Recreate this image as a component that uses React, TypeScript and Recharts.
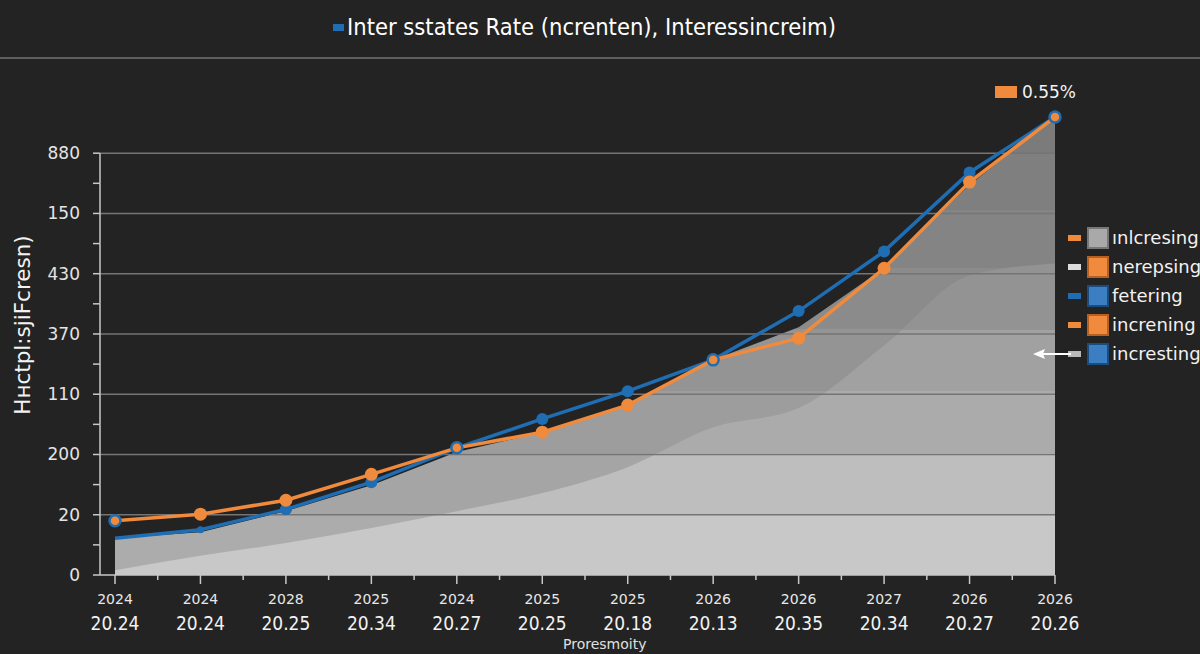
import React from 'react';
import { ComposedChart, Area, Line, XAxis, YAxis, ReferenceLine } from 'recharts';

// tick labels
const years = ['2024', '2024', '2028', '2025', '2024', '2025', '2025', '2026', '2026', '2027', '2026', '2026'];
const rates = ['20.24', '20.24', '20.25', '20.34', '20.27', '20.25', '20.18', '20.13', '20.35', '20.34', '20.27', '20.26'];
const yTickLabels = ['0', '20', '200', '110', '370', '430', '150', '880'];

// series (in y-grid units)
const orangeValues = [0.9, 1.01, 1.24, 1.67, 2.11, 2.37, 2.82, 3.57, 3.93, 5.09, 6.52, 7.6];
const blueValues = [0.61, 0.75, 1.09, 1.54, 2.11, 2.59, 3.05, 3.57, 4.38, 5.37, 6.68, 7.6];
const upperBand = [0.61, 0.71, 1.06, 1.49, 2.04, 2.37, 2.82, 3.57, 4.11, 5.09, 6.47, 7.6];
const lowerBand = [0.08, 0.32, 0.53, 0.78, 1.06, 1.36, 1.79, 2.45, 2.77, 3.81, 4.97, 5.17];

const legendLabels = ['ınlcresing', 'nerepsing', 'fetering', 'increning', 'incresting'];
const titleText = 'Inter sstates Rate (ncrenten), Interessincreim)';
const yAxisTitle = 'Hнctpl:sjiFcresn)';
const xAxisTitle = 'Proresmoity';
const badgeText = '0.55%';

const data = years.map((yr, i) => ({
  x: i,
  orange: orangeValues[i],
  blue: blueValues[i],
  upper: upperBand[i],
  lower: lowerBand[i],
}));

const xTicks = years.flatMap((_, i) => (i < years.length - 1 ? [i, i + 0.5] : [i]));
const yTicks = yTickLabels.flatMap((_, i) => (i < yTickLabels.length - 1 ? [i, i + 0.5] : [i]));
const gridValues = yTickLabels.map((_, i) => i).filter((v) => v > 0);

const ORANGE = '#f08a3c';
const BLUE = '#1f6db3';
const BG = '#232323';
const AXIS = '#c8c8c8';

const W = 1200;
const H = 654;
const TOP = 111;
const X_AXIS_H = 79;
const Y_MAX = 7.7;
const HALF_STEP = (0.5 * (H - TOP - X_AXIS_H)) / Y_MAX;

const ringed = [0, 4, 7, 11];

const swatches = [
  { dash: ORANGE, box: '#a9a9a9', border: '#777' },
  { dash: '#dcdcdc', box: ORANGE, border: '#b8601f' },
  { dash: BLUE, box: '#3b7fc2', border: '#1a4c80' },
  { dash: ORANGE, box: ORANGE, border: '#b8601f' },
  { dash: '#b9b9b9', box: '#3b7fc2', border: '#1a4c80' },
];

const YTick = (props: any) => {
  const { x, y, payload } = props;
  const v = payload.value;
  return (
    <g>
      <line x1={x - 7} x2={x} y1={y} y2={y} stroke={AXIS} strokeWidth={1.5} />
      {v > 0 && <line x1={x} x2={x} y1={y} y2={y + HALF_STEP} stroke={AXIS} strokeWidth={1.5} />}
      {Number.isInteger(v) && (
        <text x={x - 20} y={y} textAnchor="end" dominantBaseline="central" fill="#e4e4e4" fontSize={17} fontFamily="DejaVu Sans">
          {yTickLabels[v]}
        </text>
      )}
    </g>
  );
};

const XTick = (props: any) => {
  const { x, y, payload } = props;
  const v = payload.value;
  const major = Number.isInteger(v);
  return (
    <g>
      <line x1={x} x2={x} y1={y} y2={y + (major ? 9 : 5)} stroke={AXIS} strokeWidth={1.5} />
      {major && (
        <>
          <text x={x} y={y + 24} textAnchor="middle" dominantBaseline="central" fill="#e8e8e8" fontSize={14} fontFamily="DejaVu Sans">
            {years[v]}
          </text>
          <text x={x} y={y + 48} textAnchor="middle" dominantBaseline="central" fill="#f2f2f2" fontSize={19} fontFamily="'DejaVu Sans Condensed', 'DejaVu Sans'">
            {rates[v]}
          </text>
        </>
      )}
    </g>
  );
};

const blueDot = (props: any) => {
  const { cx, cy, index } = props;
  if (index === 0) return <g key={`b-${index}`} />;
  return <circle key={`b-${index}`} cx={cx} cy={cy} r={index === 1 ? 3.5 : 6} fill={BLUE} />;
};

const orangeDot = (props: any) => {
  const { cx, cy, index } = props;
  if (ringed.includes(index)) {
    return <circle key={`o-${index}`} cx={cx} cy={cy} r={5.5} fill={ORANGE} stroke={BLUE} strokeWidth={2.5} />;
  }
  return <circle key={`o-${index}`} cx={cx} cy={cy} r={6.5} fill={ORANGE} />;
};

const LegendBox = () => (
  <div style={{ position: 'absolute', left: 1068, top: 223, fontFamily: 'DejaVu Sans', fontSize: 18, color: '#f2f2f2' }}>
    {legendLabels.map((label, i) => (
      <div key={label} style={{ position: 'relative', height: 29, display: 'flex', alignItems: 'center', whiteSpace: 'nowrap' }}>
        {i === legendLabels.length - 1 && (
          <svg width={40} height={12} style={{ position: 'absolute', left: -35, top: 9 }}>
            <line x1={8} x2={38} y1={6} y2={6} stroke="#fff" strokeWidth={2} />
            <path d="M0 6 L12 1 L10 6 L12 11 Z" fill="#fff" />
          </svg>
        )}
        <span style={{ width: 13, height: 6, background: swatches[i].dash, marginRight: 6 }} />
        <span
          style={{
            width: 18,
            height: 18,
            background: swatches[i].box,
            border: `2px solid ${swatches[i].border}`,
            marginRight: 3,
          }}
        />
        <span>{label}</span>
      </div>
    ))}
  </div>
);

export default function App() {
  return (
    <div style={{ position: 'absolute', left: 0, top: 0, width: W, height: H, overflow: 'hidden', background: BG }}>
      <div style={{ position: 'absolute', left: 0, top: 57, width: W, height: 2, background: '#5e5e5e' }} />

      <ComposedChart width={W} height={H} data={data} margin={{ top: TOP, right: 145, bottom: 0, left: 0 }} style={{ position: 'absolute', left: 0, top: 0 }}>
        <defs>
          <linearGradient id="upperFill" x1="0" y1="0" x2="0" y2="1">
            <stop offset="0" stopColor="#7b7b7b" />
            <stop offset="0.079" stopColor="#7b7b7b" />
            <stop offset="0.079" stopColor="#7f7f7f" />
            <stop offset="0.203" stopColor="#7f7f7f" />
            <stop offset="0.203" stopColor="#848484" />
            <stop offset="0.33" stopColor="#848484" />
            <stop offset="0.33" stopColor="#8b8b8b" />
            <stop offset="0.463" stopColor="#8b8b8b" />
            <stop offset="0.463" stopColor="#949494" />
            <stop offset="0.598" stopColor="#949494" />
            <stop offset="0.598" stopColor="#9d9d9d" />
            <stop offset="0.734" stopColor="#9d9d9d" />
            <stop offset="0.734" stopColor="#a5a5a5" />
            <stop offset="0.867" stopColor="#a5a5a5" />
            <stop offset="0.867" stopColor="#acacac" />
            <stop offset="1" stopColor="#acacac" />
          </linearGradient>
          <linearGradient id="lowerFill" x1="0" y1="0" x2="0" y2="1">
            <stop offset="0" stopColor="#939393" />
            <stop offset="0.212" stopColor="#939393" />
            <stop offset="0.212" stopColor="#a1a1a1" />
            <stop offset="0.41" stopColor="#a1a1a1" />
            <stop offset="0.41" stopColor="#ababab" />
            <stop offset="0.609" stopColor="#ababab" />
            <stop offset="0.609" stopColor="#bebebe" />
            <stop offset="0.804" stopColor="#bebebe" />
            <stop offset="0.804" stopColor="#c8c8c8" />
            <stop offset="1" stopColor="#c8c8c8" />
          </linearGradient>
        </defs>
        <XAxis
          type="number"
          dataKey="x"
          domain={[0, years.length - 1]}
          ticks={xTicks}
          interval={0}
          padding={{ left: 15, right: 0 }}
          height={X_AXIS_H}
          tickSize={0}
          tickMargin={0}
          tickLine={false}
          axisLine={{ stroke: AXIS, strokeWidth: 1.5 }}
          tick={<XTick />}
        />
        <YAxis
          type="number"
          domain={[0, Y_MAX]}
          ticks={yTicks}
          interval={0}
          width={100}
          tickSize={0}
          tickMargin={0}
          tickLine={false}
          axisLine={false}
          tick={<YTick />}
        />
        <Area type="linear" dataKey="upper" stroke="none" fill="url(#upperFill)" fillOpacity={1} isAnimationActive={false} />
        <Area type="monotone" dataKey="lower" stroke="none" fill="url(#lowerFill)" fillOpacity={1} isAnimationActive={false} />
        {gridValues.map((v) => (
          <ReferenceLine key={v} y={v} stroke="#757575" strokeWidth={1.5} />
        ))}
        <Line type="linear" dataKey="blue" stroke={BLUE} strokeWidth={3.5} dot={blueDot} activeDot={false} isAnimationActive={false} />
        <Line type="linear" dataKey="orange" stroke={ORANGE} strokeWidth={3.5} dot={orangeDot} activeDot={false} isAnimationActive={false} />
      </ComposedChart>

      <div
        style={{
          position: 'absolute',
          left: 333,
          top: 13,
          display: 'flex',
          alignItems: 'center',
          color: '#fff',
          fontSize: 23.5,
          fontFamily: "'DejaVu Sans Condensed', 'Liberation Sans Narrow', 'DejaVu Sans'",
          whiteSpace: 'nowrap',
        }}
      >
        <span style={{ width: 11, height: 7, background: BLUE, marginRight: 3 }} />
        {titleText}
      </div>
      <div style={{ position: 'absolute', left: 995, top: 82, display: 'flex', alignItems: 'center', color: '#f2f2f2', fontSize: 17, fontFamily: 'DejaVu Sans' }}>
        <span style={{ width: 22, height: 12, background: ORANGE, marginRight: 5 }} />
        {badgeText}
      </div>
      <div
        style={{
          position: 'absolute',
          left: 22,
          top: 325,
          transform: 'translate(-50%, -50%) rotate(-90deg)',
          color: '#f2f2f2',
          fontSize: 21.5,
          fontFamily: 'DejaVu Sans',
          whiteSpace: 'nowrap',
        }}
      >
        {yAxisTitle}
      </div>
      <div style={{ position: 'absolute', left: 563, top: 636, color: '#e0e0e0', fontSize: 14, lineHeight: '16px', fontFamily: 'DejaVu Sans' }}>{xAxisTitle}</div>
      <LegendBox />
    </div>
  );
}
